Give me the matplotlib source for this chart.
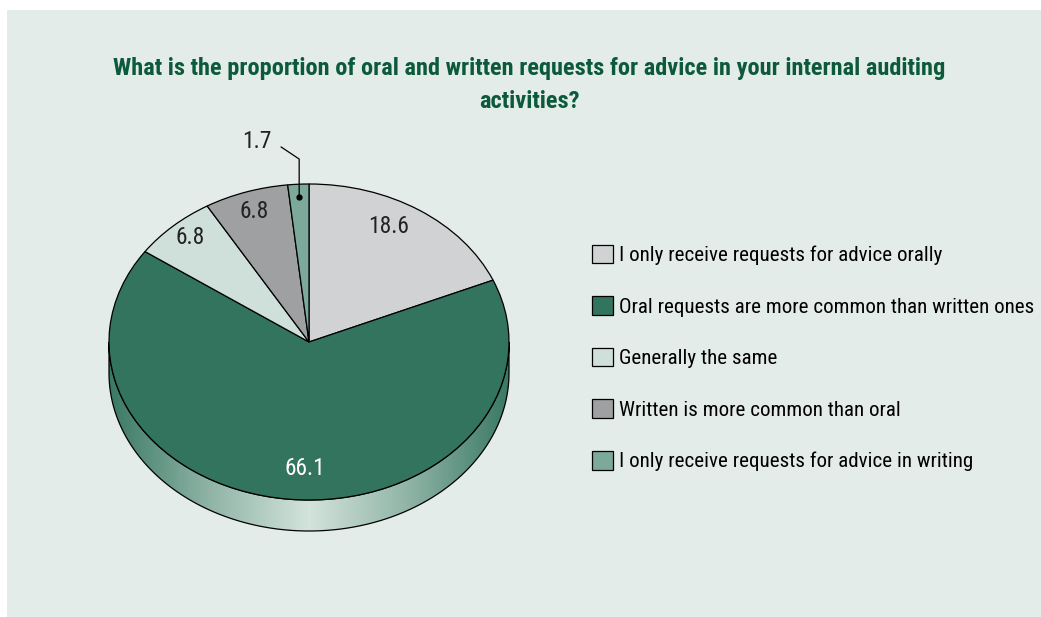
import numpy as np
import matplotlib
matplotlib.use('Agg')
import matplotlib.pyplot as plt
from matplotlib import font_manager
from matplotlib.patches import Rectangle, Polygon
from matplotlib.colors import LinearSegmentedColormap

# a narrow face if there is one, else the narrowest plain one
installed = {f.name for f in font_manager.fontManager.ttflist}
family = 'DejaVu Sans'
for name in ['Liberation Sans Narrow', 'Roboto Condensed', 'Open Sans Condensed',
             'Roboto', 'Liberation Sans']:
    if name in installed:
        family = name
        break
plt.rcParams['font.family'] = [family, 'DejaVu Sans']

title = "What is the proportion of oral and written requests for advice in your internal auditing\nactivities?"
categories = [
    "I only receive requests for advice orally",
    "Oral requests are more common than written ones",
    "Generally the same",
    "Written is more common than oral",
    "I only receive requests for advice in writing",
]
values = [18.6, 66.1, 6.8, 6.8, 1.7]
colors = ['#d1d2d4', '#33745f', '#cfe0da', '#9fa0a2', '#7da99b']

W, H = 1041, 617
fig = plt.figure(figsize=(W / 100, H / 100), dpi=100)
fig.patch.set_facecolor('white')
renderer = fig.canvas.get_renderer()


def fit_size(s, target_px, base=17, **kw):
    t = fig.text(0, 0, s, fontsize=base, **kw)
    w = t.get_window_extent(renderer).width
    t.remove()
    return min(base, base * target_px / w)


title_fs = fit_size(title.split('\n')[0], 834, base=18, fontweight='bold')
leg_fs = fit_size(categories[1], 415, base=17)
lab_fs = min(18, leg_fs * 1.12)

# panel background
fig.patches.append(Rectangle((7 / W, 0), 1 - 7 / W, (H - 10) / H,
                             transform=fig.transFigure, facecolor='#e3ece8',
                             edgecolor='none', zorder=-5))

# pie axes: 200 px per unit horizontally, 158 px vertically -> tilted look
cx, cy, rx, ry = 309, 342, 200, 158
xl, yb, yt = 1.25, -1.45, 1.35
ax = fig.add_axes([(cx - xl * rx) / W, 1 - (cy - yb * ry) / H,
                   2 * xl * rx / W, (yt - yb) * ry / H])
ax.set_facecolor('none')

wedges, texts, autotexts = ax.pie(
    values, colors=colors, startangle=90, counterclock=False,
    wedgeprops=dict(edgecolor='black', linewidth=0.9),
    autopct=lambda p: f'{p:.1f}', pctdistance=0.87,
    textprops=dict(fontsize=lab_fs, color='#222222'))
ax.set_aspect('auto')
for w in wedges:
    w.set_zorder(2)

# side of the disc (front half, all in the big slice)
depth = 31 / ry
th = np.linspace(np.pi, 2 * np.pi, 200)
top = np.column_stack([np.cos(th), np.sin(th)])
bot = np.column_stack([np.cos(th[::-1]), np.sin(th[::-1]) - depth])
side = Polygon(np.vstack([top, bot]), closed=True, facecolor='none',
               edgecolor='black', linewidth=0.9, zorder=1.5)
ax.add_patch(side)
cmap = LinearSegmentedColormap.from_list('side', ['#3a7964', '#8fb4a6', '#d3e3dc'])
xs = np.linspace(-1, 1, 400)
grad = np.tile(1 - np.abs(xs), (10, 1))
im = ax.imshow(grad, cmap=cmap, extent=(-1, 1, -1 - depth, 0),
               aspect='auto', zorder=1, vmin=0, vmax=1)
im.set_clip_path(side)
ax.set_xlim(-xl, xl)
ax.set_ylim(yb, yt)
ax.axis('off')

# label tweaks
autotexts[0].set_position((0.40, 0.73))
autotexts[1].set_color('white')
autotexts[1].set_position((-0.02, -0.80))
autotexts[2].set_position((-0.595, 0.66))
autotexts[3].set_position((-0.275, 0.825))
autotexts[4].set_visible(False)
for t in autotexts:
    t.set_zorder(3)

# leader for the small slice
ang = np.deg2rad(90 - 360 * (sum(values[:4]) + values[4] / 2) / 100)
px, py = 0.92 * np.cos(ang), 0.92 * np.sin(ang)
ax.plot([px - 0.09, px, px], [1.234, 1.158, py], color='black', lw=0.9, zorder=3)
ax.plot([px], [py], 'o', color='black', ms=3.5, zorder=3)
ax.text(px - 0.21, 1.27, f'{values[4]:.1f}', fontsize=lab_fs, color='#222222',
        ha='center', va='center')

fig.text(529 / W, 1 - 85 / H, title, ha='center', va='center', fontsize=title_fs,
         fontweight='bold', color='#0c5a3b', linespacing=1.55)

fig.legend(wedges, categories, loc='center left',
           bbox_to_anchor=(592 / W, 1 - 358 / H), frameon=False,
           fontsize=leg_fs, handlelength=21 / (leg_fs * 1.389),
           handleheight=21 / (leg_fs * 1.389), handletextpad=0.3,
           labelspacing=(52 - leg_fs * 1.389) / (leg_fs * 1.389),
           borderpad=0, borderaxespad=0)

fig.savefig('out.png', dpi=100, facecolor=fig.get_facecolor())
